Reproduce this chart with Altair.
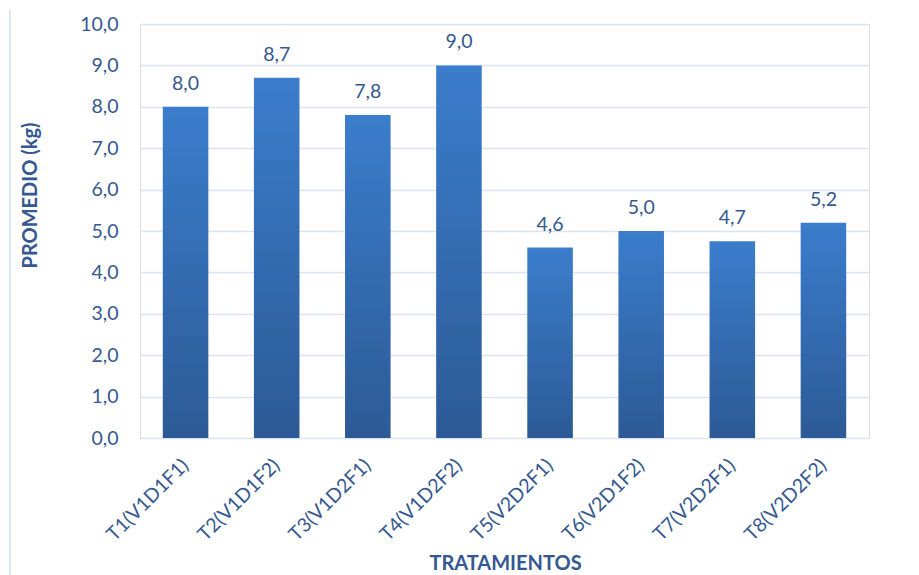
import altair as alt
import pandas as pd

tratamientos = ["T1(V1D1F1)", "T2(V1D1F2)", "T3(V1D2F1)", "T4(V1D2F2)",
                "T5(V2D2F1)", "T6(V2D1F2)", "T7(V2D2F1)", "T8(V2D2F2)"]
promedio = [8.0, 8.7, 7.8, 9.0, 4.6, 5.0, 4.75, 5.2]
etiquetas = ["8,0", "8,7", "7,8", "9,0", "4,6", "5,0", "4,7", "5,2"]
y_ticks = [0, 1, 2, 3, 4, 5, 6, 7, 8, 9, 10]

df = pd.DataFrame({"tratamiento": tratamientos, "promedio": promedio, "etiqueta": etiquetas})

FONT = "Lato"
TEXT = "#34588f"
GRID = "#d9e3f1"

x_enc = alt.X(
    "tratamiento:N",
    sort=tratamientos,
    scale=alt.Scale(paddingInner=0.5, paddingOuter=0.25),
    axis=alt.Axis(
        title="TRATAMIENTOS",
        labelAngle=-45,
        labelAlign="right",
        labelBaseline="middle",
        labelPadding=24,
        labelFontSize=19.5,
        labelColor=TEXT,
        labelFont=FONT,
        ticks=False,
        domain=False,
        grid=False,
        titleFont=FONT,
        titleFontSize=20,
        titleFontWeight="bold",
        titleColor=TEXT,
        titleX=365,
        titleY=125,
        titleAlign="center",
        titleBaseline="middle",
    ),
)

y_enc = alt.Y(
    "promedio:Q",
    scale=alt.Scale(domain=[0, 10], nice=False),
    axis=alt.Axis(
        title="PROMEDIO (kg)",
        values=y_ticks,
        labelExpr="replace(format(datum.value, '.1f'), '.', ',')",
        labelFontSize=19.5,
        labelColor=TEXT,
        labelFont=FONT,
        labelPadding=22,
        ticks=False,
        domain=False,
        grid=True,
        gridColor=GRID,
        gridWidth=1.6,
        titleFont=FONT,
        titleFontSize=20,
        titleFontWeight="bold",
        titleColor=TEXT,
        titleAngle=-90,
        titleX=-110,
        titleY=171,
        titleAlign="center",
        titleBaseline="middle",
    ),
)

base = alt.Chart(df)

bars = base.mark_bar(
    color=alt.Gradient(
        gradient="linear",
        stops=[
            alt.GradientStop(color="#3b7dcc", offset=0),
            alt.GradientStop(color="#2c5a96", offset=1),
        ],
        x1=0, x2=0, y1=0, y2=1,
    )
).encode(x=x_enc, y=y_enc)

labels = base.mark_text(
    font=FONT, fontSize=19.5, color=TEXT, baseline="alphabetic", dy=-17
).encode(
    x=alt.X("tratamiento:N", sort=tratamientos),
    y=alt.Y("promedio:Q"),
    text="etiqueta:N",
)

frame = base.mark_rule(color="#dce6f2", strokeWidth=2).encode(
    x=alt.value(-130), y=alt.value(-14), y2=alt.value(560)
)

chart = (
    alt.layer(frame, bars, labels)
    .properties(
        width=729,
        height=414,
        padding={"left": 140, "top": 24, "right": 50, "bottom": 137},
        autosize=alt.AutoSizeParams(type="none"),
    )
    .configure_view(stroke=None)
    .configure(background="white")
)

chart.save("out.html", embed_options={"renderer": "svg", "actions": False})
